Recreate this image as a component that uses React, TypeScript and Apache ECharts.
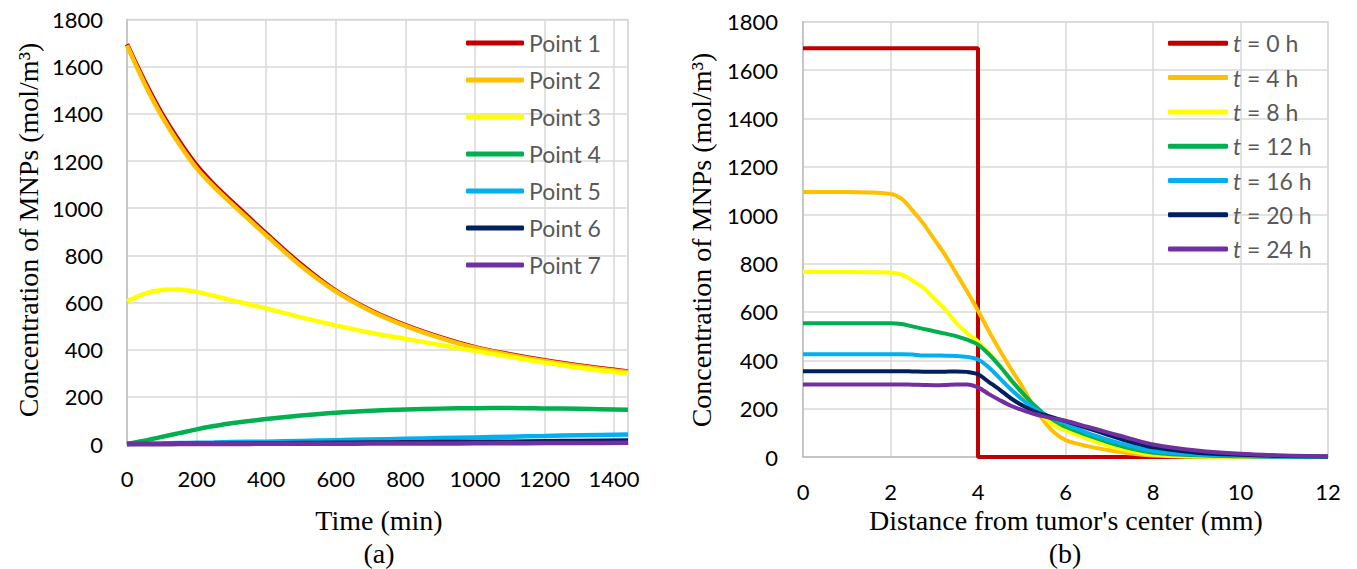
import React, { useEffect, useRef } from 'react';
import * as echarts from 'echarts';

// ---------- Left chart (a): concentration vs time ----------
const timeMin = [0, 50, 100, 150, 200, 250, 300, 400, 500, 600, 700, 800, 900, 1000, 1100, 1200, 1300, 1440];
const point1 = [1695, 1540, 1402, 1285, 1182, 1100, 1030, 893, 762, 650, 567, 504, 453, 411, 381, 355, 333, 308];
const point2 = [1690, 1530, 1390, 1272, 1170, 1090, 1020, 885, 755, 647, 564, 501, 450, 408, 378, 352, 330, 305];
const point3 = [605, 637, 653, 655, 645, 628, 610, 575, 537, 503, 472, 446, 420, 395, 370, 345, 323, 298];
const point4 = [0, 14, 30, 46, 62, 76, 88, 106, 121, 133, 141, 146, 150, 152, 153, 151, 149, 145];
const point5 = [0, 1, 2, 4, 5, 6, 8, 10, 13, 16, 19, 22, 25, 28, 31, 34, 37, 40];
const point6 = [0, 0, 0, 1, 1, 1, 2, 3, 4, 5, 6, 7, 8, 9, 10, 12, 13, 15];
const point7 = [0, 0, 0, 0, 0, 0, 0, 1, 1, 1, 2, 2, 2, 3, 3, 4, 4, 5];
const pointNames = ['Point 1', 'Point 2', 'Point 3', 'Point 4', 'Point 5', 'Point 6', 'Point 7'];

// ---------- Right chart (b): concentration vs distance ----------
const distanceMm = [0, 1, 2, 2.25, 2.5, 2.75, 3, 3.25, 3.5, 3.75, 4, 4.25, 4.5, 4.75, 5, 5.25, 5.5, 5.75, 6, 6.5, 7, 7.5, 8, 9, 10, 11, 12];
const t0X = [0, 4, 4, 12];
const t0Y = [1690, 1690, 0, 0];
const t4 = [1096, 1096, 1088, 1068, 1020, 965, 900, 835, 760, 685, 605, 520, 440, 365, 295, 215, 150, 100, 70, 45, 28, 14, 6, 1, 0, 0, 0];
const t8 = [765, 765, 763, 755, 730, 700, 655, 610, 555, 512, 478, 430, 378, 315, 265, 205, 165, 130, 110, 75, 45, 25, 10, 2, 1, 0, 0];
const t12 = [553, 553, 553, 550, 540, 530, 520, 510, 500, 485, 465, 425, 375, 320, 268, 220, 180, 150, 125, 90, 60, 35, 18, 7, 3, 1, 0];
const t16 = [425, 425, 425, 425, 424, 420, 420, 419, 418, 414, 403, 370, 325, 280, 240, 205, 178, 157, 138, 100, 70, 45, 25, 10, 4, 2, 1];
const t20 = [355, 355, 355, 355, 354, 353, 352, 353, 354, 352, 342, 310, 278, 243, 215, 192, 175, 162, 148, 120, 90, 62, 40, 18, 9, 4, 2];
const t24 = [300, 300, 300, 300, 299, 298, 297, 298, 300, 300, 288, 260, 235, 212, 195, 180, 168, 158, 150, 125, 100, 75, 52, 27, 13, 6, 3];
const timeNames = ['t = 0 h', 't = 4 h', 't = 8 h', 't = 12 h', 't = 16 h', 't = 20 h', 't = 24 h'];

const yTicks = { min: 0, max: 1800, interval: 200 };
const colors = ['#C00000', '#FFC000', '#FFFF00', '#00B050', '#00B0F0', '#002060', '#7030A0'];

const zip = (xs: number[], ys: number[]) => xs.map((x, i) => [x, ys[i]]);

const SERIF = 'Liberation Serif, Times New Roman, serif';
const SANS = 'Lato, Carlito, Calibri, sans-serif';
const GRID_COLOR = '#D9D9D9';
const AXIS_COLOR = '#BFBFBF';

export default function App() {
  const ref = useRef<HTMLDivElement>(null);

  useEffect(() => {
    if (!ref.current) return;
    const chart = echarts.init(ref.current, undefined, { renderer: 'svg' });

    const leftSeries = [point1, point2, point3, point4, point5, point6, point7];
    const rightSeries = [null, t4, t8, t12, t16, t20, t24];

    const plain = (v: number) => String(v);
    const axisLabel = { color: '#000', fontFamily: SANS, fontSize: 22, formatter: plain };
    const splitLine = { show: true, lineStyle: { color: GRID_COLOR, width: 1.5 } };
    const axisLine = { show: true, lineStyle: { color: AXIS_COLOR, width: 1.5 } };

    const series: any[] = [];
    leftSeries.forEach((arr, i) => {
      series.push({
        type: 'line',
        name: pointNames[i],
        xAxisIndex: 0,
        yAxisIndex: 0,
        data: zip(timeMin, arr),
        showSymbol: false,
        symbol: 'none',
        smooth: 0.3,
        clip: false,
        lineStyle: { color: colors[i], width: 4.5 },
        itemStyle: { color: colors[i] },
      });
    });
    rightSeries.forEach((arr, i) => {
      series.push({
        type: 'line',
        name: timeNames[i],
        xAxisIndex: 1,
        yAxisIndex: 1,
        data: arr ? zip(distanceMm, arr) : zip(t0X, t0Y),
        showSymbol: false,
        symbol: 'none',
        smooth: arr ? 0.3 : false,
        clip: false,
        lineStyle: { color: colors[i], width: 4 },
        itemStyle: { color: colors[i] },
      });
    });

    const textEl = (text: string, x: number, y: number, size: number, rotation = 0) => ({
      type: 'text',
      x,
      y,
      rotation,
      style: {
        text,
        fontFamily: SERIF,
        fontSize: size,
        fill: '#000',
        align: 'center',
        verticalAlign: 'middle',
        textAlign: 'center',
        textVerticalAlign: 'middle',
      },
    });

    const legendBase = {
      orient: 'vertical',
      padding: 0,
      icon: 'roundRect',
      itemHeight: 5,
      selectedMode: false,
    };

    chart.setOption({
      animation: false,
      backgroundColor: '#fff',
      grid: [
        { left: 127, top: 19.5, width: 501, height: 424.5, show: true, borderColor: GRID_COLOR, borderWidth: 1.5 },
        { left: 803, top: 21.7, width: 525, height: 435.3, show: true, borderColor: GRID_COLOR, borderWidth: 1.5 },
      ],
      xAxis: [
        {
          type: 'value', gridIndex: 0, min: 0, max: 1440, interval: 200,
          axisLine, axisTick: { show: false }, splitLine,
          axisLabel: { ...axisLabel, margin: 23, formatter: (v: number) => (v % 200 === 0 ? String(v) : '') },
        },
        {
          type: 'value', gridIndex: 1, min: 0, max: 12, interval: 2,
          axisLine, axisTick: { show: false }, splitLine,
          axisLabel: { ...axisLabel, margin: 23 },
        },
      ],
      yAxis: [
        {
          type: 'value', gridIndex: 0, ...yTicks,
          axisLine, axisTick: { show: false }, splitLine,
          axisLabel: { ...axisLabel, margin: 24 },
        },
        {
          type: 'value', gridIndex: 1, ...yTicks,
          axisLine, axisTick: { show: false }, splitLine,
          axisLabel: { ...axisLabel, margin: 25 },
        },
      ],
      legend: [
        {
          ...legendBase,
          data: pointNames,
          left: 466,
          top: 31,
          itemWidth: 58,
          itemGap: 13,
          textStyle: { fontFamily: SANS, fontSize: 23, color: '#595959', lineHeight: 24 },
        },
        {
          ...legendBase,
          data: timeNames,
          left: 1168,
          top: 31.3,
          itemWidth: 60,
          itemGap: 10.3,
          formatter: (n: string) => '{i|t}' + n.slice(1),
          textStyle: {
            fontFamily: SANS, fontSize: 23, color: '#595959', lineHeight: 24,
            rich: { i: { fontFamily: SANS, fontSize: 23, color: '#595959', lineHeight: 24, fontStyle: 'italic' } },
          },
        },
      ],
      graphic: [
        textEl('Concentration of MNPs (mol/m³)', 28, 230, 28, Math.PI / 2),
        textEl('Time (min)', 379, 520, 28),
        textEl('(a)', 379, 553, 28),
        textEl('Concentration of MNPs (mol/m³)', 701, 240, 28, Math.PI / 2),
        textEl("Distance from tumor's center (mm)", 1066, 520.5, 28),
        textEl('(b)', 1065, 553, 28),
      ],
      series,
    });

    return () => chart.dispose();
  }, []);

  return (
    <div
      ref={ref}
      style={{ position: 'absolute', left: 0, top: 0, width: 1357, height: 569, background: '#fff' }}
    />
  );
}
